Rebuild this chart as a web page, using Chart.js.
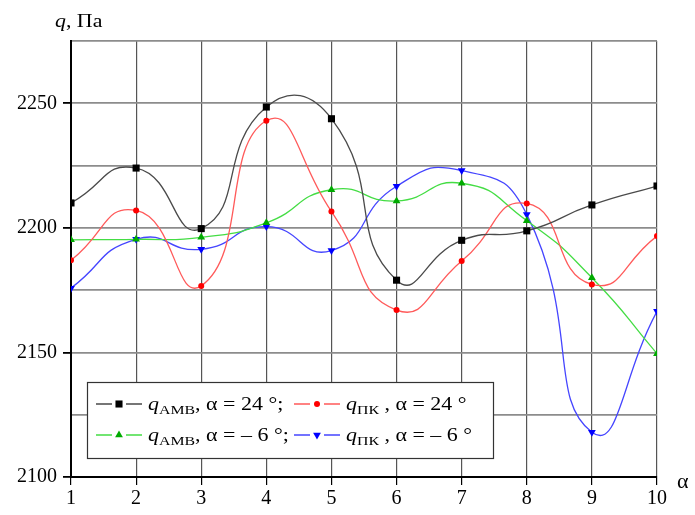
<!DOCTYPE html>
<html>
<head>
<meta charset="utf-8">
<script src="https://cdn.jsdelivr.net/npm/chart.js@4.4.0/dist/chart.umd.min.js"></script>
<style>
  html, body { margin: 0; padding: 0; background: #fff; }
  #chart { display: block; }
</style>
</head>
<body>
<canvas id="chart" width="695" height="515"></canvas>
<script>
// углы / позиции по оси α
const alphaLabels = [1, 2, 3, 4, 5, 6, 7, 8, 9, 10];

// q, Па
const qAmb24 = [2210, 2224, 2199.7, 2248.5, 2243.8, 2179, 2195, 2198.8, 2209.2, 2216.8];
const qPk24 = [2187, 2207, 2176.7, 2243, 2206.6, 2167, 2186.7, 2209.8, 2177.3, 2196.7];
const qAmbM6 = [2195.2, 2195.4, 2196.2, 2202, 2215.3, 2210.8, 2217.9, 2202.9, 2180, 2149.5];
const qPkM6 = [2175.8, 2195.4, 2191.4, 2200.5, 2190.9, 2216.7, 2223, 2205.4, 2118, 2166.5];

const yTicksLabeled = [2100, 2150, 2200, 2250];

const SERIF = "'Liberation Serif', 'DejaVu Serif', serif";

function pts(values) {
  return values.map((v, i) => ({ x: alphaLabels[i], y: v }));
}

function series(values, color, style, radius, rotation) {
  return {
    data: pts(values),
    borderColor: color,
    backgroundColor: color,
    borderWidth: 1.3,
    tension: 0.55,
    pointStyle: style,
    pointRadius: radius,
    pointRotation: rotation || 0,
    pointBorderWidth: 0,
    pointBackgroundColor: color.point,
    fill: false
  };
}

const lineCol = { black: '#4a4a4a', red: '#ff5a5a', green: '#44dd44', blue: '#4545ff' };
const dotCol = { black: '#000000', red: '#ff0000', green: '#00aa00', blue: '#0000ff' };

// маркер для легенды
function drawMarker(ctx, style, x, y, r, color, rot) {
  ctx.save();
  ctx.fillStyle = color;
  ctx.translate(x, y);
  if (rot) ctx.rotate(rot * Math.PI / 180);
  ctx.beginPath();
  if (style === 'rect') {
    const s = r * Math.SQRT1_2;
    ctx.rect(-s, -s, 2 * s, 2 * s);
  } else if (style === 'circle') {
    ctx.arc(0, 0, r, 0, Math.PI * 2);
  } else {
    ctx.moveTo(0, -r);
    ctx.lineTo(r * 0.866, r * 0.5);
    ctx.lineTo(-r * 0.866, r * 0.5);
    ctx.closePath();
  }
  ctx.fill();
  ctx.restore();
}

// текст из кусков: [текст, шрифт, сдвиг вниз]
function drawParts(ctx, parts, x, y, sx) {
  ctx.save();
  ctx.translate(x, y);
  ctx.scale(sx, 1);
  ctx.fillStyle = '#000';
  ctx.textBaseline = 'alphabetic';
  ctx.textAlign = 'left';
  let cx = 0;
  parts.forEach(p => {
    ctx.font = p[1];
    ctx.fillText(p[0], cx, p[2] || 0);
    cx += ctx.measureText(p[0]).width;
  });
  ctx.restore();
}

const legendItems = [
  { col: 'black', style: 'rect', r: 5, rot: 0, x: 96, y: 404, sub: 'АМВ', rest: ', α = 24 °;' },
  { col: 'red', style: 'circle', r: 3, rot: 0, x: 294, y: 404, sub: 'ПК', rest: ' , α = 24 °' },
  { col: 'green', style: 'triangle', r: 4.5, rot: 0, x: 96, y: 435, sub: 'АМВ', rest: ', α = – 6 °;' },
  { col: 'blue', style: 'triangle', r: 4.5, rot: 180, x: 294, y: 435, sub: 'ПК', rest: ' , α = – 6 °' }
];

const decorPlugin = {
  id: 'decor',
  afterDraw(chart) {
    const ctx = chart.ctx;
    // подпись оси q
    drawParts(ctx, [
      ['q', 'italic 19px ' + SERIF],
      [', Па', '19px ' + SERIF]
    ], 55, 27, 1.15);
    // подпись оси α
    ctx.save();
    ctx.font = '22px ' + SERIF;
    ctx.fillStyle = '#000';
    ctx.textBaseline = 'middle';
    ctx.fillText('α', 677, 482);
    ctx.restore();

    // легенда
    ctx.save();
    ctx.fillStyle = '#fff';
    ctx.fillRect(87, 382, 406, 76);
    ctx.strokeStyle = '#333';
    ctx.lineWidth = 1.2;
    ctx.strokeRect(87.5, 382.5, 406, 76);
    ctx.restore();

    legendItems.forEach(it => {
      ctx.save();
      ctx.strokeStyle = lineCol[it.col];
      ctx.lineWidth = 1.3;
      ctx.beginPath();
      ctx.moveTo(it.x, it.y);
      ctx.lineTo(it.x + 16, it.y);
      ctx.moveTo(it.x + 30, it.y);
      ctx.lineTo(it.x + 46, it.y);
      ctx.stroke();
      ctx.restore();
      drawMarker(ctx, it.style, it.x + 23, it.y, it.r, dotCol[it.col], it.rot);
      drawParts(ctx, [
        ['q', 'italic 18px ' + SERIF],
        [it.sub, '13px ' + SERIF, 4],
        [it.rest, '18px ' + SERIF]
      ], it.x + 52, it.y + 6, 1.22);
    });
  }
};

const ctx = document.getElementById('chart');

new Chart(ctx, {
  type: 'line',
  data: {
    datasets: [
      Object.assign(series(qAmb24, lineCol.black, 'rect', 5), { pointBackgroundColor: dotCol.black, pointBorderColor: dotCol.black }),
      Object.assign(series(qPk24, lineCol.red, 'circle', 3), { pointBackgroundColor: dotCol.red, pointBorderColor: dotCol.red }),
      Object.assign(series(qAmbM6, lineCol.green, 'triangle', 4.5), { pointBackgroundColor: dotCol.green, pointBorderColor: dotCol.green }),
      Object.assign(series(qPkM6, lineCol.blue, 'triangle', 4.5, 180), { pointBackgroundColor: dotCol.blue, pointBorderColor: dotCol.blue })
    ]
  },
  options: {
    responsive: false,
    animation: false,
    devicePixelRatio: 1,
    layout: { padding: { top: 41, right: 38, left: 0, bottom: 0 } },
    plugins: {
      legend: { display: false },
      tooltip: { enabled: false }
    },
    scales: {
      x: {
        type: 'linear',
        min: 1,
        max: 10,
        afterFit(scale) { scale.height = 38; },
        ticks: {
          stepSize: 1,
          color: '#000',
          padding: 2,
          font: { family: SERIF, size: 20 }
        },
        grid: {
          color: '#555',
          lineWidth: 1.2,
          tickColor: '#000',
          tickLength: 8
        },
        border: { display: true, color: '#000', width: 2 }
      },
      y: {
        min: 2100,
        max: 2275,
        afterFit(scale) { scale.width = 71; },
        ticks: {
          stepSize: 25,
          color: '#000',
          padding: 6,
          font: { family: SERIF, size: 20 },
          callback: v => (yTicksLabeled.includes(v) ? String(v) : '')
        },
        grid: {
          color: '#8c8c8c',
          lineWidth: 1.8,
          tickLength: 8,
          tickColor: c => (c.tick && yTicksLabeled.includes(c.tick.value) ? '#000' : 'rgba(0,0,0,0)')
        },
        border: { display: true, color: '#000', width: 2 }
      }
    }
  },
  plugins: [decorPlugin]
});
</script>
</body>
</html>
